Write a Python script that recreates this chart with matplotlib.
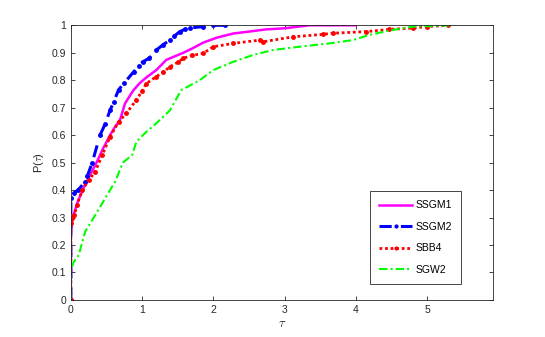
import numpy as np
import matplotlib
matplotlib.use("Agg")
import matplotlib.pyplot as plt

plt.rcParams['font.family'] = ['Liberation Sans', 'DejaVu Sans']
plt.rcParams['mathtext.fontset'] = 'cm'

# performance profile points (tau, P)
tau_ssgm1 = [0, 0, 0.02, 0.05, 0.1, 0.2, 0.3, 0.36, 0.45, 0.55, 0.62, 0.69, 0.76, 0.82, 0.88,
             0.97, 1.06, 1.2, 1.34, 1.45, 1.58, 1.7, 1.86, 2.05, 2.28, 2.5, 2.74, 3.0, 3.35, 4.0]
p_ssgm1 = [0, 0.25, 0.29, 0.32, 0.36, 0.42, 0.47, 0.50, 0.55, 0.60, 0.63, 0.655, 0.715, 0.74, 0.764,
           0.79, 0.81, 0.837, 0.874, 0.886, 0.90, 0.915, 0.937, 0.955, 0.97, 0.977, 0.985, 0.989, 1.0, 1.0]

tau_ssgm2 = [0, 0, 0.05, 0.1, 0.2, 0.23, 0.3, 0.41, 0.48, 0.55, 0.6, 0.67, 0.75, 0.88, 0.95,
             1.01, 1.1, 1.2, 1.3, 1.39, 1.45, 1.53, 1.6, 1.67, 1.85, 2.0, 2.17]
p_ssgm2 = [0, 0.37, 0.39, 0.40, 0.43, 0.45, 0.50, 0.60, 0.64, 0.69, 0.72, 0.765, 0.79, 0.83, 0.85,
           0.867, 0.88, 0.91, 0.93, 0.946, 0.96, 0.977, 0.985, 0.99, 0.995, 1.0, 1.0]

tau_sbb4 = [0, 0, 0.02, 0.05, 0.086, 0.16, 0.25, 0.34, 0.44, 0.55, 0.67, 0.78, 0.92, 1.0, 1.06,
            1.2, 1.3, 1.39, 1.5, 1.58, 1.7, 1.86, 2.0, 2.28, 2.65, 2.7, 3.12, 3.54, 3.68,
            4.15, 4.47, 4.8, 5.0, 5.3]
p_sbb4 = [0, 0.28, 0.30, 0.31, 0.345, 0.40, 0.436, 0.466, 0.527, 0.594, 0.648, 0.68, 0.728, 0.76, 0.788,
          0.813, 0.83, 0.849, 0.865, 0.88, 0.89, 0.898, 0.922, 0.934, 0.946, 0.94, 0.958, 0.967, 0.971,
          0.977, 0.985, 0.99, 0.995, 1.0]

tau_sgw2 = [0, 0, 0.04, 0.11, 0.2, 0.34, 0.48, 0.62, 0.73, 0.86, 0.92, 1.06, 1.2, 1.39, 1.55,
            1.81, 2.0, 2.28, 2.56, 2.84, 3.21, 3.63, 3.96, 4.19, 4.52, 4.8, 5.36]
p_sgw2 = [0, 0.11, 0.138, 0.163, 0.248, 0.308, 0.369, 0.43, 0.50, 0.527, 0.576, 0.612, 0.643, 0.69, 0.764,
          0.80, 0.837, 0.867, 0.892, 0.91, 0.922, 0.934, 0.946, 0.965, 0.983, 0.995, 1.0]

labels = ['SSGM1', 'SSGM2', 'SBB4', 'SGW2']

fig = plt.figure(figsize=(5.45, 3.37), dpi=100)
ax = fig.add_axes([0.13, 0.11, 0.775, 0.815])

ax.plot(tau_ssgm1, p_ssgm1, color='#ff00ff', linestyle='-', linewidth=1.8, label=labels[0])
ax.plot(tau_ssgm2, p_ssgm2, color='#0000ff', linestyle=(0, (4, 3)), linewidth=2.2,
        marker='.', markersize=5, label=labels[1])
ax.plot(tau_sbb4, p_sbb4, color='#ff0000', linestyle=(0, (1, 1)), linewidth=2,
        marker='.', markersize=5, label=labels[2])
ax.plot(tau_sgw2, p_sgw2, color='#00ff00', linestyle=(0, (4, 1.5, 1, 1.5)), linewidth=1.5,
        label=labels[3])

ax.set_xlim(0, 5.93)
ax.set_ylim(0, 1)
ax.set_xticks([0, 1, 2, 3, 4, 5])
ax.set_yticks(np.arange(0, 1.01, 0.1))
ax.set_yticklabels(['0', '0.1', '0.2', '0.3', '0.4', '0.5', '0.6', '0.7', '0.8', '0.9', '1'])
ax.tick_params(direction='in', top=True, right=True, labelsize=7.5, colors='#262626',
               length=3, width=0.6)
for s in ax.spines.values():
    s.set_color('#262626')
    s.set_linewidth(0.6)

ax.set_xlabel(r'$\tau$', fontsize=9, color='#262626', labelpad=2)
ax.set_ylabel(r'P($\tau$)', fontsize=8, color='#262626', labelpad=4)

leg = ax.legend(loc='center', bbox_to_anchor=(0.816, 0.227), fontsize=7.5, handlelength=3.2,
                handletextpad=0.3, labelspacing=1.1, fancybox=False, framealpha=1,
                borderpad=0.9, borderaxespad=0, markerscale=0.8)
leg.get_frame().set_edgecolor('#262626')
leg.get_frame().set_linewidth(0.6)

fig.savefig('out.png', dpi=100)
